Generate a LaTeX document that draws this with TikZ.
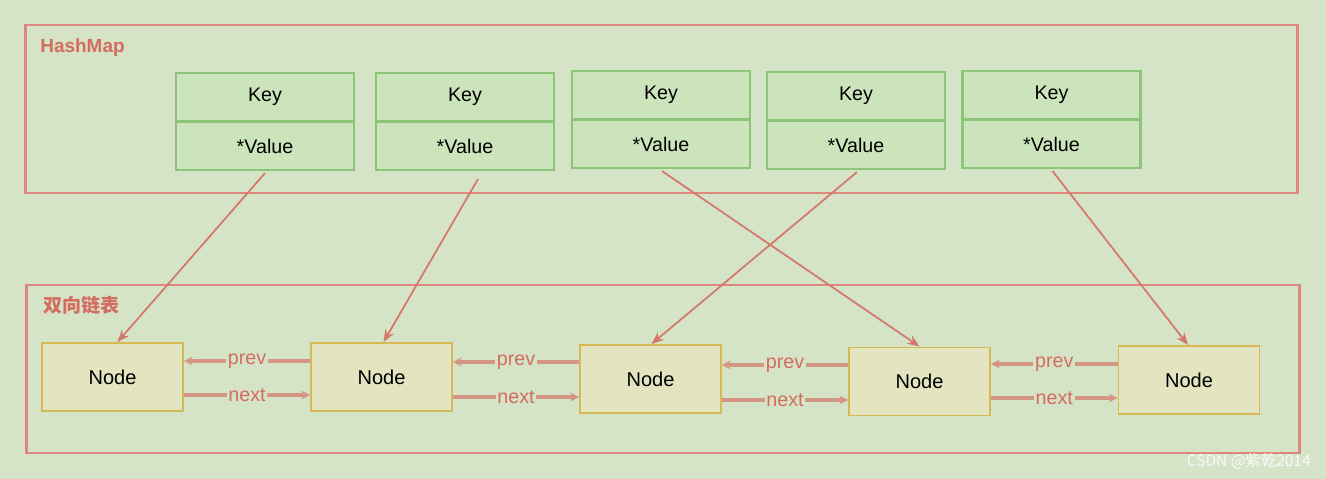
\documentclass[tikz,border=0pt]{standalone}
\usepackage{fontspec}
\setmainfont{Liberation Sans}
\newfontfamily\cjk{Noto Sans CJK SC}
\usetikzlibrary{arrows.meta,calc}
\definecolor{bgc}{RGB}{213,228,198}
\definecolor{keyfill}{RGB}{204,228,188}
\definecolor{keyline}{RGB}{140,196,122}
\definecolor{nodefill}{RGB}{226,229,192}
\definecolor{nodeline}{RGB}{214,184,86}
\definecolor{redc}{RGB}{212,108,95}
\definecolor{framec}{RGB}{222,135,125}
\tikzset{
  frame/.style={draw=framec,line width=1.6pt,minimum width=#1},
  kv/.style={draw=keyline,fill=keyfill,line width=1.2pt,minimum width=3.56cm,minimum height=0.96cm,inner sep=0pt,font=\fontsize{11.2}{13}\selectfont},
  ln/.style={draw=nodeline,fill=nodefill,line width=1.1pt,minimum width=2.82cm,minimum height=1.36cm,inner sep=0pt,font=\fontsize{11.4}{13}\selectfont},
  ptr/.style={draw=redc!90!bgc,line width=1pt,-{Stealth[length=7pt,width=5.5pt]}},
  link/.style={draw=redc!65!bgc,line width=2pt,-{Stealth[length=5pt,width=5pt]}},
  lbl/.style={fill=bgc,text=redc,inner sep=1pt,font=\fontsize{11.2}{13}\selectfont},
  ttl/.style={text=redc,anchor=west,inner sep=0pt,font=\fontsize{10.8}{13}\selectfont\bfseries}
}
\begin{document}
\begin{tikzpicture}[x=0.02cm,y=-0.02cm]
\useasboundingbox[fill=bgc] (0,0) rectangle (1326,479);
% frames
\node[frame=25.46cm,minimum height=3.36cm] (hm) at (661.5,109) {};
\node[frame=25.48cm,minimum height=3.36cm] (dl) at (663,369) {};
\node[ttl] (hmt) at (40,48) {HashMap};
\node[ttl] (dlt) at (43,305) {\cjk\bfseries 双向链表};
% key/value boxes
\node[kv] (k1) at (265,97) {Key};
\node[kv] (v1) at (265,146) {*Value};
\node[kv] (k2) at (465,97) {Key};
\node[kv] (v2) at (465,146) {*Value};
\node[kv] (k3) at (661,95) {Key};
\node[kv] (v3) at (661,144) {*Value};
\node[kv] (k4) at (856,96) {Key};
\node[kv] (v4) at (856,145) {*Value};
\node[kv] (k5) at (1051.5,95) {Key};
\node[kv] (v5) at (1051.5,144) {*Value};
% list nodes
\node[ln] (n1) at (112.5,377) {Node};
\node[ln] (n2) at (381.5,377) {Node};
\node[ln] (n3) at (650.5,379) {Node};
\node[ln] (n4) at (919.5,381.5) {Node};
\node[ln] (n5) at (1189,380) {Node};
% pointers
\draw[ptr] ($(v1.south)+(0,2)$) -- ($(n1.north)+(5,0)$);
\draw[ptr] ($(v2.south)+(13,8)$) -- ($(n2.north)+(2,0)$);
\draw[ptr] ($(v3.south)+(1,2)$) -- (n4.north);
\draw[ptr] ($(v4.south)+(1,2)$) -- ($(n3.north)+(1,0)$);
\draw[ptr] ($(v5.south)+(1,2)$) -- ($(n5.north)+(-1,0)$);
% prev / next
\draw[link] (n2.west |- 0,361) -- node[lbl]{prev} (n1.east |- 0,361);
\draw[link] (n1.east |- 0,395) -- node[lbl]{next} (n2.west |- 0,395);
\draw[link] (n3.west |- 0,362) -- node[lbl]{prev} (n2.east |- 0,362);
\draw[link] (n2.east |- 0,397) -- node[lbl]{next} (n3.west |- 0,397);
\draw[link] (n4.west |- 0,365) -- node[lbl]{prev} (n3.east |- 0,365);
\draw[link] (n3.east |- 0,400) -- node[lbl]{next} (n4.west |- 0,400);
\draw[link] (n5.west |- 0,364) -- node[lbl]{prev} (n4.east |- 0,364);
\draw[link] (n4.east |- 0,398) -- node[lbl]{next} (n5.west |- 0,398);
% watermark
\node[text=white!95!gray,font=\cjk\fontsize{8.8}{10}\selectfont,anchor=east,inner sep=0pt] (wm) at (1311,461) {CSDN @紫乾2014};
\end{tikzpicture}
\end{document}
